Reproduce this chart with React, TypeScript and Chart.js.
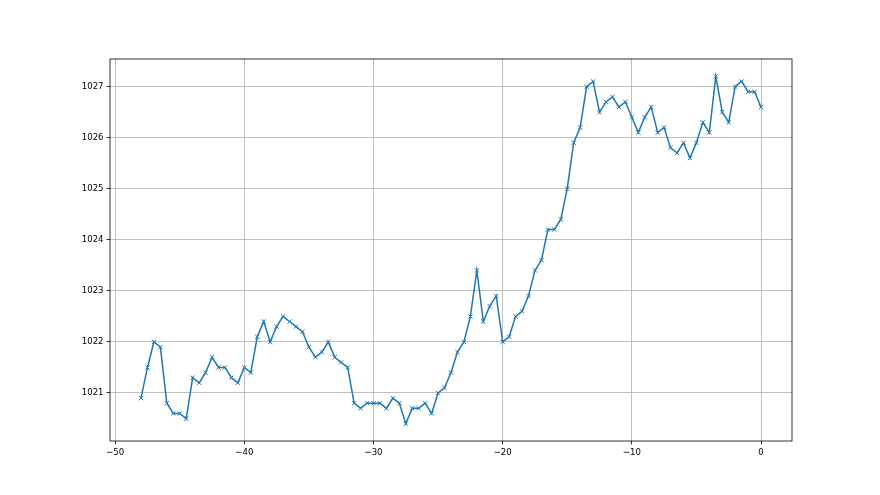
import React, { useEffect, useRef } from "react";
import { Chart, registerables } from "chart.js";

Chart.register(...registerables);

const xValues: number[] = [
  -48, -47.5, -47, -46.5, -46, -45.5, -45, -44.5, -44, -43.5, -43, -42.5, -42, -41.5, -41, -40.5,
  -40, -39.5, -39, -38.5, -38, -37.5, -37, -36.5, -36, -35.5, -35, -34.5, -34, -33.5, -33, -32.5,
  -32, -31.5, -31, -30.5, -30, -29.5, -29, -28.5, -28, -27.5, -27, -26.5, -26, -25.5, -25, -24.5,
  -24, -23.5, -23, -22.5, -22, -21.5, -21, -20.5, -20, -19.5, -19, -18.5, -18, -17.5, -17, -16.5,
  -16, -15.5, -15, -14.5, -14, -13.5, -13, -12.5, -12, -11.5, -11, -10.5, -10, -9.5, -9, -8.5,
  -8, -7.5, -7, -6.5, -6, -5.5, -5, -4.5, -4, -3.5, -3, -2.5, -2, -1.5, -1, -0.5, 0,
];

const pressure: number[] = [
  1020.9, 1021.5, 1022.0, 1021.9, 1020.8, 1020.6, 1020.6, 1020.5, 1021.3, 1021.2, 1021.4, 1021.7, 1021.5, 1021.5, 1021.3, 1021.2,
  1021.5, 1021.4, 1022.1, 1022.4, 1022.0, 1022.3, 1022.5, 1022.4, 1022.3, 1022.2, 1021.9, 1021.7, 1021.8, 1022.0, 1021.7, 1021.6,
  1021.5, 1020.8, 1020.7, 1020.8, 1020.8, 1020.8, 1020.7, 1020.9, 1020.8, 1020.4, 1020.7, 1020.7, 1020.8, 1020.6, 1021.0, 1021.1,
  1021.4, 1021.8, 1022.0, 1022.5, 1023.4, 1022.4, 1022.7, 1022.9, 1022.0, 1022.1, 1022.5, 1022.6, 1022.9, 1023.4, 1023.6, 1024.2,
  1024.2, 1024.4, 1025.0, 1025.9, 1026.2, 1027.0, 1027.1, 1026.5, 1026.7, 1026.8, 1026.6, 1026.7, 1026.4, 1026.1, 1026.4, 1026.6,
  1026.1, 1026.2, 1025.8, 1025.7, 1025.9, 1025.6, 1025.9, 1026.3, 1026.1, 1027.2, 1026.5, 1026.3, 1027.0, 1027.1, 1026.9, 1026.9, 1026.6,
];

const xTicks: number[] = [-50, -40, -30, -20, -10, 0];
const yTicks: number[] = [1021, 1022, 1023, 1024, 1025, 1026, 1027];

const FONT = "'DejaVu Sans Condensed', 'DejaVu Sans', sans-serif";

const framePlugin = {
  id: "frame",
  beforeDraw(chart: any) {
    const ctx = chart.ctx;
    ctx.save();
    ctx.fillStyle = "#ffffff";
    ctx.fillRect(0, 0, chart.width, chart.height);
    ctx.restore();
  },
  afterDraw(chart: any) {
    const { left, top, right, bottom } = chart.chartArea;
    const ctx = chart.ctx;
    ctx.save();
    ctx.strokeStyle = "#000000";
    ctx.lineWidth = 0.8;
    ctx.strokeRect(left, top, right - left, bottom - top);
    ctx.restore();
  },
};

export default function App() {
  const ref = useRef<HTMLCanvasElement | null>(null);

  useEffect(() => {
    if (!ref.current) return;
    const pts = xValues.map((x, i) => ({ x, y: pressure[i] }));
    const chart = new Chart(ref.current, {
      type: "line",
      data: {
        datasets: [
          {
            data: pts,
            borderColor: "#1f77b4",
            backgroundColor: "#1f77b4",
            borderWidth: 1.5,
            pointStyle: "crossRot",
            pointRadius: 3,
            pointBorderWidth: 1,
            pointBorderColor: "#1f77b4",
            tension: 0,
            fill: false,
          },
        ],
      },
      options: {
        responsive: false,
        animation: false,
        events: [],
        layout: { padding: { left: 0, right: 88, top: 59, bottom: 23 } },
        plugins: {
          legend: { display: false },
          tooltip: { enabled: false },
          title: { display: false },
        },
        scales: {
          x: {
            type: "linear",
            min: -50.4,
            max: 2.4,
            afterBuildTicks: (s: any) => {
              s.ticks = xTicks.map((v) => ({ value: v }));
            },
            afterFit: (s: any) => {
              s.height = 31;
            },
            grid: {
              color: "#b0b0b0",
              lineWidth: 0.8,
              drawTicks: true,
              tickLength: 3.5,
              tickColor: "#000000",
              tickWidth: 0.8,
            },
            border: { display: false },
            ticks: {
              color: "#000000",
              font: { family: FONT, size: 9.5 },
              padding: 2,
              maxRotation: 0,
              autoSkip: false,
              callback: (v: any) => String(v).replace("-", "\u2212"),
            },
          },
          y: {
            type: "linear",
            min: 1020.06,
            max: 1027.54,
            afterBuildTicks: (s: any) => {
              s.ticks = yTicks.map((v) => ({ value: v }));
            },
            afterFit: (s: any) => {
              s.width = 110;
            },
            grid: {
              color: "#b0b0b0",
              lineWidth: 0.8,
              drawTicks: true,
              tickLength: 3.5,
              tickColor: "#000000",
              tickWidth: 0.8,
            },
            border: { display: false },
            ticks: {
              color: "#000000",
              font: { family: FONT, size: 9.5 },
              padding: 3,
              autoSkip: false,
              callback: (v: any) => String(v),
            },
          },
        },
      },
      plugins: [framePlugin],
    });
    return () => chart.destroy();
  }, []);

  return (
    <div style={{ position: "absolute", left: 0, top: 0, width: 880, height: 495, background: "#fff" }}>
      <canvas ref={ref} width={880} height={495} style={{ display: "block" }} />
    </div>
  );
}
